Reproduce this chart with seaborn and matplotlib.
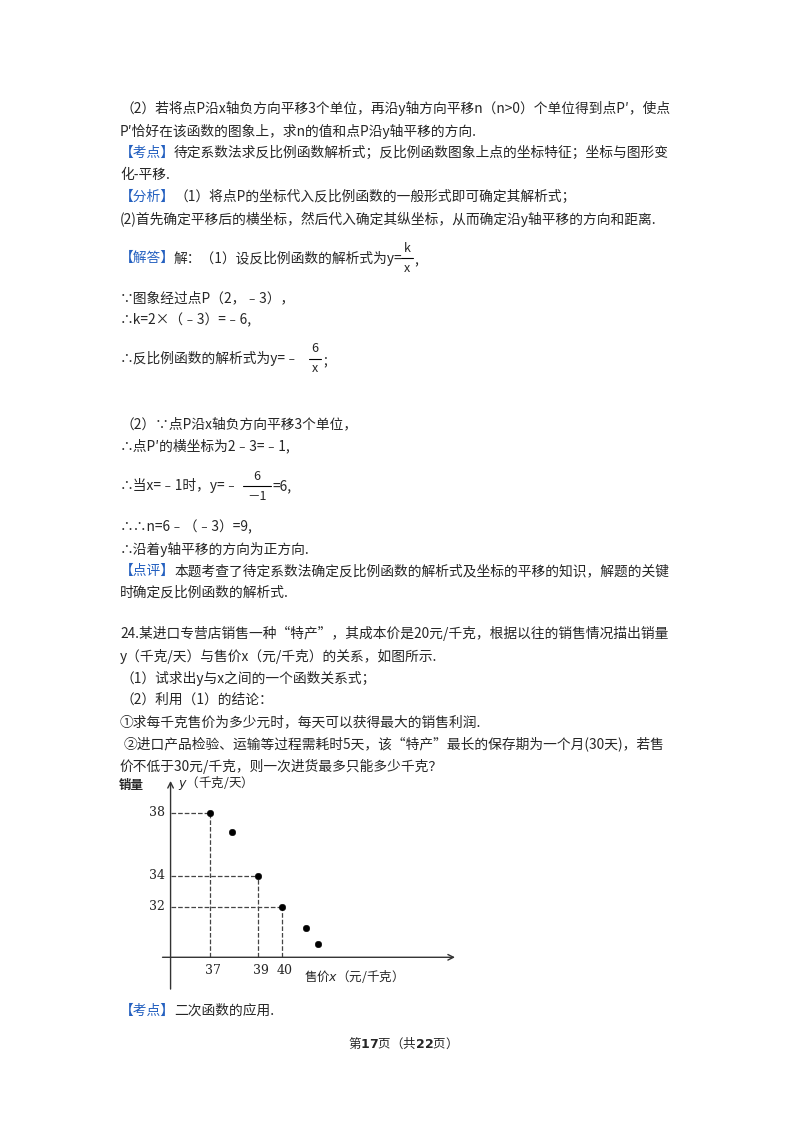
import matplotlib
matplotlib.use("Agg")
import matplotlib.pyplot as plt
import seaborn as sns
import pandas as pd

sns.set_style("white")
plt.rcParams['font.family'] = ['Noto Sans CJK SC', 'DejaVu Sans']

price = [37, 37.9, 39, 40, 41.0, 41.5]
sales = [38, 36.8, 34, 32, 30.66, 29.64]
xticks = [37, 39, 40]
yticks = [38, 34, 32]

W, H = 800, 1132
fig = plt.figure(figsize=(8, 11.32), dpi=100)
BLUE = '#2460c0'
FS = 9.9

def T(x, y, s, **kw):
    kw.setdefault('fontsize', FS)
    fig.text(x / W, 1 - y / H, s, va='center', ha=kw.pop('ha', 'left'), **kw)

def tagline(y, tag, rest):
    T(120, y, tag, color=BLUE)
    T(174, y, rest)

def frac(x, y, num, den, w):
    T(x + w / 2, y - 10, num, fontsize=9, ha='center')
    T(x + w / 2, y + 10, den, fontsize=9, ha='center')
    fig.add_artist(plt.Line2D([x / W, (x + w) / W], [1 - y / H, 1 - y / H], color='k', lw=0.8))

T(120, 108, "（2）若将点P沿x轴负方向平移3个单位，再沿y轴方向平移n（n>0）个单位得到点P′，使点")
T(120, 131, "P′恰好在该函数的图象上，求n的值和点P沿y轴平移的方向.")
tagline(153, "【考点】", "待定系数法求反比例函数解析式；反比例函数图象上点的坐标特征；坐标与图形变")
T(120, 175, "化-平移.")
tagline(197, "【分析】", "（1）将点P的坐标代入反比例函数的一般形式即可确定其解析式；")
T(120, 219, "(2)首先确定平移后的横坐标，然后代入确定其纵坐标，从而确定沿y轴平移的方向和距离.")
tagline(258, "【解答】", "解：（1）设反比例函数的解析式为y=")
frac(401, 258, "k", "x", 12)
T(414, 260, ",")
T(120, 298, "∵图象经过点P（2，﹣3），")
T(120, 320, "∴k=2×（﹣3）=﹣6,")
T(120, 358, "∴反比例函数的解析式为y=﹣")
frac(309, 359, "6", "x", 12)
T(323, 360, ";")
T(120, 424, "（2）∵点P沿x轴负方向平移3个单位，")
T(120, 446, "∴点P′的横坐标为2﹣3=﹣1,")
T(120, 486, "∴当x=﹣1时，y=﹣")
frac(243, 486, "6", "－1", 28)
T(272, 486, "=6,")
T(120, 527, "∴∴n=6﹣（﹣3）=9,")
T(120, 549, "∴沿着y轴平移的方向为正方向.")
tagline(571, "【点评】", "本题考查了待定系数法确定反比例函数的解析式及坐标的平移的知识，解题的关键")
T(120, 593, "时确定反比例函数的解析式.")
T(120, 633, "24.某进口专营店销售一种“特产”，其成本价是20元/千克，根据以往的销售情况描出销量")
T(120, 656, "y（千克/天）与售价x（元/千克）的关系，如图所示.")
T(120, 678, "（1）试求出y与x之间的一个函数关系式；")
T(120, 700, "（2）利用（1）的结论：")
T(120, 722, "①求每千克售价为多少元时，每天可以获得最大的销售利润.")
T(124, 744, "②进口产品检验、运输等过程需耗时5天，该“特产”最长的保存期为一个月(30天)，若售")
T(120, 766, "价不低于30元/千克，则一次进货最多只能多少千克？")
tagline(1011, "【考点】", "二次函数的应用.")
T(400, 1043, "第$\\mathbf{17}$页（共$\\mathbf{22}$页）", ha='center', fontsize=9)

# chart
x0, y0, x1, y1 = 110, 775, 465, 995
ax = fig.add_axes([x0 / W, 1 - y1 / H, (x1 - x0) / W, (y1 - y0) / H])
ax.set_xlim(32.83, 47.6)
ax.set_ylim(26.4, 40.4)
ax.axis('off')
ox, oy = 35.35, 28.8
ax.annotate('', xy=(47.3, oy), xytext=(34.9, oy),
            arrowprops=dict(arrowstyle='->', color='#333', lw=1))
ax.annotate('', xy=(ox, 40.2), xytext=(ox, 26.6),
            arrowprops=dict(arrowstyle='->', color='#333', lw=1))
df = pd.DataFrame({'price': price, 'sales': sales})
sns.scatterplot(data=df, x='price', y='sales', ax=ax, color='k', s=22, edgecolor='k', zorder=5)
for xv, yv in zip(price, sales):
    if yv in yticks:
        ax.plot([ox, xv], [yv, yv], ls='--', color='#444', lw=0.9)
        ax.plot([xv, xv], [oy, yv], ls='--', color='#444', lw=0.9)
for yv in yticks:
    ax.text(ox - 0.25, yv, str(yv), ha='right', va='center', fontsize=9, family='DejaVu Serif')
for xv in xticks:
    ax.text(xv + 0.1, oy - 0.4, str(xv), ha='center', va='top', fontsize=9, family='DejaVu Serif')
ax.text(33.2, 39.7, "销量", fontsize=9, va='center', fontweight='bold')
ax.text(ox + 0.3, 39.9, "$y$（千克/天）", fontsize=9, va='center')
ax.text(40.9, 27.6, "售价$x$（元/千克）", fontsize=9, va='center')

fig.savefig("out.png", dpi=100)
